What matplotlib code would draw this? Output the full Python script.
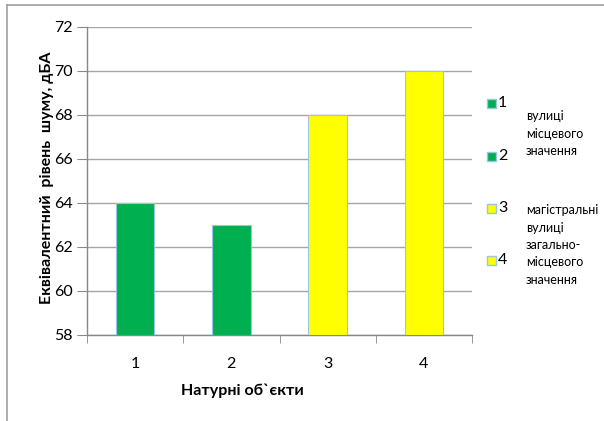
import matplotlib
matplotlib.use("Agg")
import matplotlib.pyplot as plt
from matplotlib.patches import Rectangle
from matplotlib.lines import Line2D

categories = ["1", "2", "3", "4"]
values = [64, 63, 68, 70]
colors = ["#00b050", "#00b050", "#ffff00", "#ffff00"]
yticks = [58, 60, 62, 64, 66, 68, 70, 72]
group_labels = ["вулиці\nмісцевого\nзначення",
                "магістральні\nвулиці\nзагально-\nмісцевого\nзначення"]

plt.rcParams['font.family'] = ['Lato', 'DejaVu Sans']

W, H = 604, 421
fig = plt.figure(figsize=(W / 100, H / 100), dpi=100)
ax = fig.add_axes([87 / W, 1 - 335 / H, (472 - 87) / W, (335 - 27) / H])

x = list(range(len(categories)))
ax.bar(x, [v - 58 for v in values], bottom=58, width=0.4, color=colors,
       edgecolor="#9dc3e6", linewidth=0.8, zorder=3)
ax.set_xlim(-0.5, 3.5)
ax.set_ylim(58, 72)
ax.set_yticks(yticks)
ax.set_yticklabels([str(t) for t in yticks], fontsize=11.5)
ax.set_xticks(x)
ax.set_xticklabels(categories, fontsize=11.5)
ax.set_xticks([-0.5, 0.5, 1.5, 2.5, 3.5], minor=True)
ax.tick_params(axis='x', which='major', length=0, pad=16)
ax.tick_params(axis='x', which='minor', length=6, color="#888888", direction='out')
ax.tick_params(axis='y', length=7, color="#888888", direction='out', pad=3)
ax.grid(axis='y', color="#a6a6a6", linewidth=1.0, zorder=0)
for s in ['top', 'right']:
    ax.spines[s].set_visible(False)
for s in ['left', 'bottom']:
    ax.spines[s].set_color("#888888")
    ax.spines[s].set_linewidth(1.0)

fig.text(47 / W, 1 - 178 / H, "Еквівалентний  рівень  шуму, дБА", rotation=90,
         ha='center', va='center', fontsize=11.5, fontweight='bold')
fig.text(242 / W, 1 - 391 / H, "Натурні об`єкти", ha='center', va='center',
         fontsize=11.5, fontweight='bold')

# legend
sq = 9
leg_y = [103, 156, 208, 260]
for i, (c, yy) in enumerate(zip(colors, leg_y)):
    fig.add_artist(Rectangle(((487) / W, 1 - (yy + sq / 2) / H), sq / W, sq / H,
                             facecolor=c, edgecolor="#9dc3e6", linewidth=1.0,
                             transform=fig.transFigure))
    fig.text(498 / W, 1 - yy / H, categories[i], ha='left', va='center', fontsize=11.5)
fig.text(526 / W, 1 - 110 / H, group_labels[0], ha='left', va='top',
         fontsize=9, linespacing=1.55)
fig.text(526 / W, 1 - 204 / H, group_labels[1], ha='left', va='top',
         fontsize=9, linespacing=1.55)

# outer frame lines
fig.add_artist(Line2D([7 / W, 7 / W], [0, 1 - 5 / H], color="#a0a0a0", linewidth=1.2,
                      transform=fig.transFigure))
fig.add_artist(Line2D([7 / W, 1], [1 - 5 / H, 1 - 5 / H], color="#a0a0a0", linewidth=1.2,
                      transform=fig.transFigure))

fig.savefig("out.png", dpi=100)
